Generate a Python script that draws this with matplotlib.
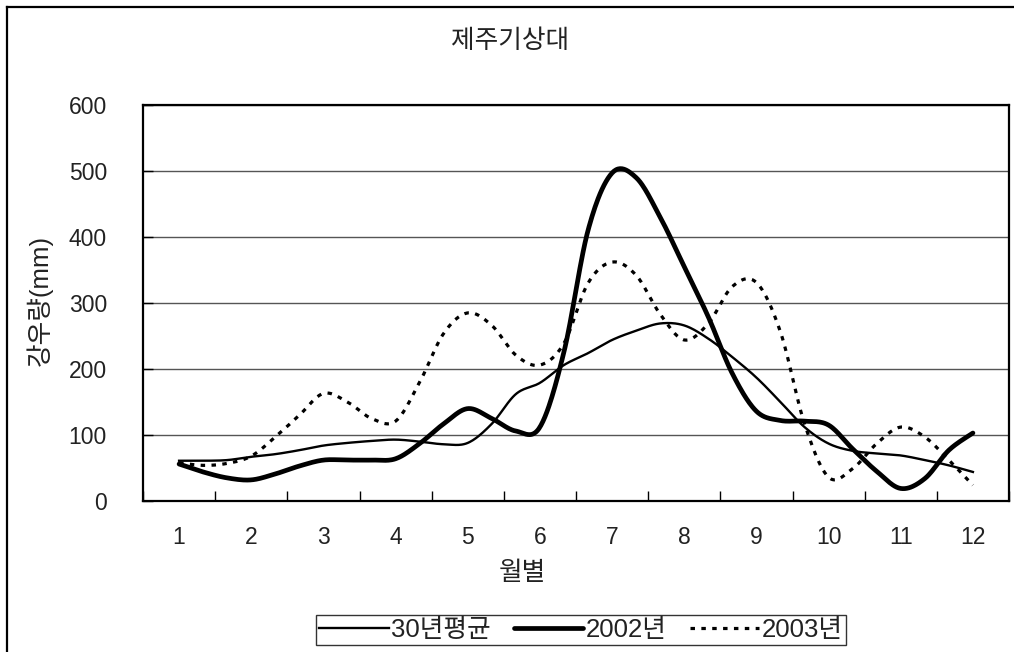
#!/usr/bin/env python3
"""제주기상대 강우량: 30년평균 vs 2002년 vs 2003년 (smoothed lines, Excel style)."""

import numpy as np
import matplotlib

matplotlib.use("Agg")
import matplotlib.pyplot as plt
from matplotlib.lines import Line2D

plt.rcParams["font.family"] = ["Liberation Sans", "Noto Sans CJK KR", "DejaVu Sans"]

# readings taken every third of a month, from month 1 to month 12
month_labels = ["1", "2", "3", "4", "5", "6", "7", "8", "9", "10", "11", "12"]
avg_30y = [61, 61, 62, 67, 71, 77, 84, 88, 91, 93, 90, 86, 88, 117, 162, 179, 206,
           224, 244, 258, 269, 266, 246, 218, 187, 150, 112, 87, 76, 72, 69, 62, 54, 44]
rain_2002 = [56, 44, 35, 32, 41, 53, 62, 62, 62, 64, 87, 117, 140, 125, 106, 112, 226,
             410, 497, 490, 430, 355, 279, 193, 136, 122, 121, 115, 79, 45, 19, 34, 77, 103]
rain_2003 = [58, 54, 57, 68, 97, 130, 163, 150, 125, 121, 180, 254, 285, 266, 221, 206, 239,
             330, 362, 342, 283, 244, 269, 325, 331, 256, 117, 36, 49, 87, 112, 97, 62, 24]
series_labels = ["30년평균", "2002년", "2003년"]


def smooth(x, y, n=24):
    """Catmull-Rom curve through the points, like Excel's smoothed line."""
    x = np.asarray(x, float)
    y = np.asarray(y, float)
    px = np.concatenate([[x[0]], x, [x[-1]]])
    py = np.concatenate([[y[0]], y, [y[-1]]])
    t = np.linspace(0, 1, n, endpoint=False)
    xs, ys = [], []
    for i in range(1, len(px) - 2):
        for arr, out in ((px, xs), (py, ys)):
            p0, p1, p2, p3 = arr[i - 1], arr[i], arr[i + 1], arr[i + 2]
            c1 = p1 + (p2 - p0) / 6
            c2 = p2 - (p3 - p1) / 6
            out.extend((1 - t) ** 3 * p1 + 3 * (1 - t) ** 2 * t * c1
                       + 3 * (1 - t) * t ** 2 * c2 + t ** 3 * p2)
    xs.append(x[-1])
    ys.append(y[-1])
    return np.array(xs), np.array(ys)


x = 1 + np.arange(len(avg_30y)) / 3
fs = 16.5      # digits on the axes
fs_kr = 18.5   # texts with Hangul
ink = "#222222"

fig = plt.figure(figsize=(10.14, 6.52), dpi=100)
ax = fig.add_axes([143 / 1014, 1 - 501 / 652, (1009 - 143) / 1014, (501 - 105) / 652])

ax.plot(*smooth(x, avg_30y), color="black", lw=1.7, label=series_labels[0],
        solid_joinstyle="round")
ax.plot(*smooth(x, rain_2002), color="black", lw=3.4, label=series_labels[1],
        solid_capstyle="round", solid_joinstyle="round")
ax.plot(*smooth(x, rain_2003), color="black", lw=2.3, linestyle=(0, (1.4, 2.0)),
        label=series_labels[2])

ax.set_xlim(0.5, 12.5)
ax.set_ylim(0, 600)
ax.set_yticks(np.arange(0, 601, 100))
ax.yaxis.grid(True, color="#555555", lw=1)
ax.set_axisbelow(True)

ax.set_xticks(np.arange(0.5, 12.6, 1))
ax.set_xticklabels([])
ax.set_xticks(np.arange(1, 13), minor=True)
ax.set_xticklabels(month_labels, minor=True)
ax.tick_params(axis="x", which="major", direction="in", length=7, width=1)
ax.tick_params(axis="x", which="minor", length=0, pad=18, labelsize=fs, labelcolor=ink)
ax.tick_params(axis="y", direction="in", length=7, width=1, pad=26, labelsize=fs,
               labelcolor=ink)
for sp in ax.spines.values():
    sp.set_linewidth(1.6)
    sp.set_color("black")

fig.text(510 / 1014, 1 - 41 / 652, "제주기상대", ha="center", va="center", fontsize=fs_kr,
         color=ink)
fig.text(39 / 1014, 1 - 300 / 652, "강우량(mm)", ha="center", va="center",
         rotation=90, fontsize=fs_kr, color=ink)
fig.text(522 / 1014, 1 - 573 / 652, "월별", ha="center", va="center", fontsize=fs_kr,
         color=ink)

leg = fig.legend(loc="center", bbox_to_anchor=(581 / 1014, 1 - 630 / 652), ncol=3,
                 fontsize=fs_kr, frameon=True, fancybox=False, handlelength=2.7,
                 handletextpad=0.1, columnspacing=0.9, borderpad=0.12,
                 borderaxespad=0)
leg.get_frame().set_edgecolor("black")
leg.get_frame().set_linewidth(1.0)
for txt in leg.get_texts():
    txt.set_color(ink)

# outer chart border (top and left visible)
fig.add_artist(Line2D([7 / 1014, 1], [1 - 7 / 652, 1 - 7 / 652], color="black", lw=1.6))
fig.add_artist(Line2D([7 / 1014, 7 / 1014], [0, 1 - 7 / 652], color="black", lw=1.6))

fig.savefig("out.png", dpi=100)
